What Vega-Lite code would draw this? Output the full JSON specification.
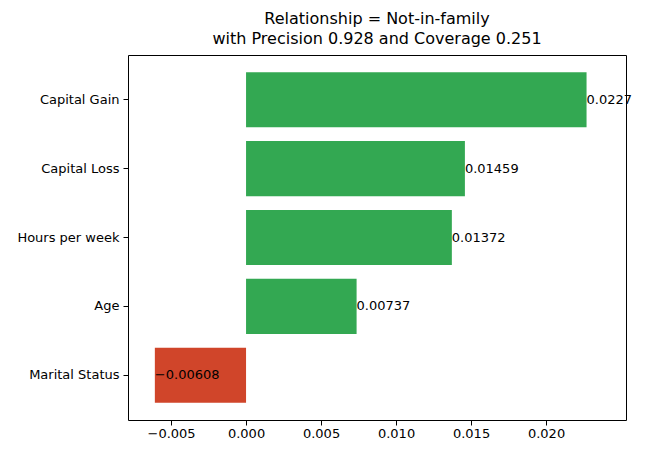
{
  "$schema": "https://vega.github.io/schema/vega-lite/v6.json",
  "width": 498,
  "height": 365,
  "autosize": {"type": "none"},
  "padding": {"left": 128, "top": 55, "right": 34, "bottom": 36},
  "background": "white",
  "view": {"stroke": "black", "strokeWidth": 1},
  "title": {
    "text": ["Relationship = Not-in-family", "with Precision 0.928 and Coverage 0.251"],
    "font": "DejaVu Sans",
    "fontSize": 16,
    "fontWeight": "normal",
    "color": "black",
    "offset": 8,
    "lineHeight": 20
  },
  "data": {
    "values": [
      {"feature": "Capital Gain", "value": 0.0227},
      {"feature": "Capital Loss", "value": 0.01459},
      {"feature": "Hours per week", "value": 0.01372},
      {"feature": "Age", "value": 0.00737},
      {"feature": "Marital Status", "value": -0.00608}
    ]
  },
  "encoding": {
    "y": {
      "field": "feature",
      "type": "nominal",
      "sort": null,
      "title": null,
      "scale": {"paddingInner": 0.2, "paddingOuter": 0.25},
      "axis": {"labelFont": "DejaVu Sans", "labelFontSize": 13, "labelColor": "black", "tickColor": "black", "domain": false, "labelPadding": 4}
    },
    "x": {
      "field": "value",
      "type": "quantitative",
      "title": null,
      "scale": {"domain": [-0.00787, 0.02533], "nice": false, "zero": false},
      "axis": {"values": [-0.005, 0, 0.005, 0.01, 0.015, 0.02], "format": ".3f", "grid": false, "domain": false, "labelFont": "DejaVu Sans", "labelFontSize": 13, "labelColor": "black", "tickColor": "black", "labelFlush": false}
    }
  },
  "layer": [
    {
      "mark": {"type": "bar"},
      "encoding": {
        "x2": {"datum": 0},
        "color": {
          "condition": {"test": "datum.value < 0", "value": "#d0452a"},
          "value": "#33a852"
        }
      }
    },
    {
      "mark": {"type": "text", "align": "left", "baseline": "middle", "font": "DejaVu Sans", "fontSize": 13, "color": "black"},
      "encoding": {"text": {"field": "value", "type": "quantitative", "format": ".5~f"}}
    }
  ]
}
